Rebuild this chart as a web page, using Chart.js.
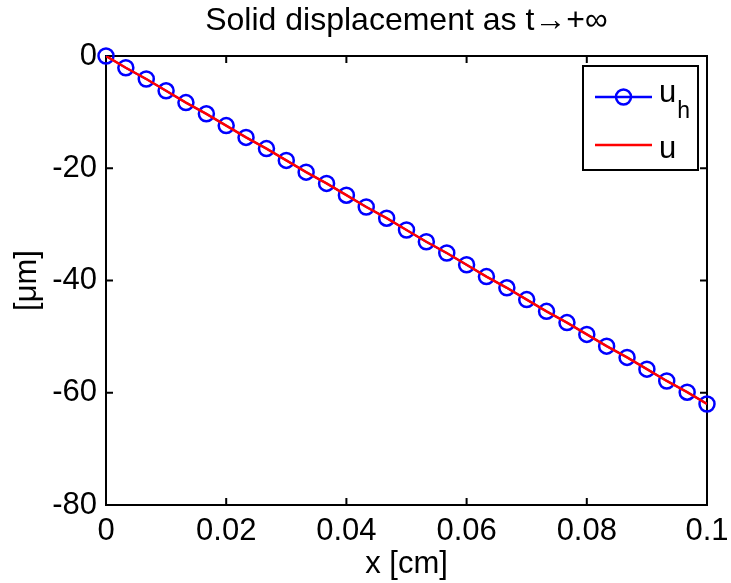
<!DOCTYPE html>
<html>
<head>
<meta charset="utf-8">
<script src="https://cdn.jsdelivr.net/npm/chart.js@4.4.1/dist/chart.umd.min.js"></script>
<style>
html,body{margin:0;padding:0;background:#ffffff;}
#wrap{width:731px;height:583px;}
</style>
</head>
<body>
<div id="wrap"><canvas id="c" width="731" height="583"></canvas></div>
<script>
// ---- data ----
const xValues = [0, 0.0033, 0.0067, 0.01, 0.0133, 0.0167, 0.02, 0.0233, 0.0267, 0.03,
  0.0333, 0.0367, 0.04, 0.0433, 0.0467, 0.05, 0.0533, 0.0567, 0.06, 0.0633,
  0.0667, 0.07, 0.0733, 0.0767, 0.08, 0.0833, 0.0867, 0.09, 0.0933, 0.0967, 0.1];
const uhValues = [0, -2.1, -4.1, -6.2, -8.3, -10.3, -12.4, -14.5, -16.5, -18.6,
  -20.7, -22.7, -24.8, -26.9, -28.9, -31.0, -33.1, -35.1, -37.2, -39.3,
  -41.3, -43.4, -45.5, -47.5, -49.6, -51.7, -53.7, -55.8, -57.9, -59.9, -62.0];
const uValues = [0, -2.1, -4.1, -6.2, -8.3, -10.3, -12.4, -14.5, -16.5, -18.6,
  -20.7, -22.7, -24.8, -26.9, -28.9, -31.0, -33.1, -35.1, -37.2, -39.3,
  -41.3, -43.4, -45.5, -47.5, -49.6, -51.7, -53.7, -55.8, -57.9, -59.9, -62.0];
const xTicks = [0, 0.02, 0.04, 0.06, 0.08, 0.1];
const yTicks = [0, -20, -40, -60, -80];
const seriesNames = ['u_h', 'u'];
const titleText = 'Solid displacement as t\u2192+\u221E';
const xLabel = 'x [cm]';
const yLabel = '[\u03BCm]';

const FONT = "'Liberation Sans', Arial, Helvetica, sans-serif";
const FS = 31;
const BLUE = '#0000ff';
const RED = '#ff0000';

function fmtTick(v) {
  if (Math.abs(v) < 1e-12) return '0';
  return String(parseFloat(v.toFixed(4)));
}

const boxPlugin = {
  id: 'matlabBox',
  beforeDatasetsDraw(chart) {
    const {ctx, chartArea: a, scales} = chart;
    ctx.save();
    ctx.strokeStyle = '#000';
    ctx.lineWidth = 2;
    ctx.beginPath();
    const tl = 7;
    scales.x.ticks.forEach(t => {
      const px = scales.x.getPixelForValue(t.value);
      ctx.moveTo(px, a.bottom); ctx.lineTo(px, a.bottom - tl);
      ctx.moveTo(px, a.top); ctx.lineTo(px, a.top + tl);
    });
    scales.y.ticks.forEach(t => {
      const py = scales.y.getPixelForValue(t.value);
      ctx.moveTo(a.left, py); ctx.lineTo(a.left + tl, py);
      ctx.moveTo(a.right, py); ctx.lineTo(a.right - tl, py);
    });
    ctx.stroke();
    ctx.strokeRect(a.left, a.top, a.right - a.left, a.bottom - a.top);
    ctx.restore();
  },
  afterDraw(chart) {
    const {ctx, chartArea: a} = chart;
    const bw = 115, bh = 104;
    const bx = a.right - 9 - bw, by = a.top + 10;
    ctx.save();
    ctx.fillStyle = '#fff';
    ctx.fillRect(bx, by, bw, bh);
    ctx.strokeStyle = '#000';
    ctx.lineWidth = 2;
    ctx.strokeRect(bx, by, bw, bh);
    const y1 = by + 31, y2 = by + 79;
    const lx0 = bx + 12, lx1 = bx + 69;
    ctx.strokeStyle = BLUE; ctx.lineWidth = 2.5;
    ctx.beginPath(); ctx.moveTo(lx0, y1); ctx.lineTo(lx1, y1); ctx.stroke();
    ctx.beginPath(); ctx.arc((lx0 + lx1) / 2, y1, 7.5, 0, Math.PI * 2); ctx.stroke();
    ctx.strokeStyle = RED; ctx.lineWidth = 2.5;
    ctx.beginPath(); ctx.moveTo(lx0, y2); ctx.lineTo(lx1, y2); ctx.stroke();
    ctx.fillStyle = '#000';
    ctx.textAlign = 'left';
    ctx.textBaseline = 'alphabetic';
    const parts = seriesNames[0].split('_');
    ctx.font = FS + 'px ' + FONT;
    ctx.fillText(parts[0], bx + 76, by + 36);
    const w = ctx.measureText(parts[0]).width;
    ctx.font = '23px ' + FONT;
    ctx.fillText(parts[1], bx + 77 + w, by + 52);
    ctx.font = FS + 'px ' + FONT;
    ctx.fillText(seriesNames[1], bx + 76, by + 92);
    ctx.restore();
  }
};

const ctx = document.getElementById('c').getContext('2d');
new Chart(ctx, {
  type: 'line',
  data: {
    datasets: [
      {
        label: seriesNames[1],
        data: xValues.map((x, i) => ({x: x, y: uValues[i]})),
        borderColor: RED,
        borderWidth: 2.5,
        pointRadius: 0,
        fill: false,
        order: 0
      },
      {
        label: seriesNames[0],
        data: xValues.map((x, i) => ({x: x, y: uhValues[i]})),
        borderColor: BLUE,
        backgroundColor: 'rgba(0,0,0,0)',
        borderWidth: 2,
        pointStyle: 'circle',
        pointRadius: 7.5,
        pointBorderWidth: 2.5,
        pointBorderColor: BLUE,
        pointBackgroundColor: 'rgba(0,0,0,0)',
        fill: false,
        clip: false,
        order: 1
      }
    ]
  },
  options: {
    responsive: false,
    animation: false,
    devicePixelRatio: 1,
    layout: {padding: {top: 0, right: 24, bottom: 0, left: 0}},
    plugins: {
      legend: {display: false},
      tooltip: {enabled: false},
      title: {
        display: true,
        text: titleText,
        fullSize: false,
        color: '#000',
        font: {family: FONT, size: 32, weight: 'normal'},
        padding: {top: 2, bottom: 15.6}
      }
    },
    scales: {
      x: {
        type: 'linear',
        min: 0, max: 0.1,
        afterBuildTicks: s => { s.ticks = xTicks.map(v => ({value: v})); },
        afterFit: s => { s.height = 78; s.paddingLeft = 0; s.paddingRight = 0; },
        grid: {display: false, drawTicks: false},
        border: {display: false},
        ticks: {
          color: '#000', padding: 8, maxRotation: 0,
          font: {family: FONT, size: FS},
          callback: v => fmtTick(v)
        },
        title: {
          display: true, text: xLabel, color: '#000',
          font: {family: FONT, size: FS},
          padding: {top: 0, bottom: 0}
        }
      },
      y: {
        type: 'linear',
        min: -80, max: 0,
        afterBuildTicks: s => { s.ticks = yTicks.map(v => ({value: v})); },
        afterFit: s => { s.width = 106; s.paddingTop = 0; s.paddingBottom = 0; },
        grid: {display: false, drawTicks: false},
        border: {display: false},
        ticks: {
          color: '#000', padding: 9,
          font: {family: FONT, size: FS},
          callback: v => fmtTick(v)
        },
        title: {
          display: true, text: yLabel, color: '#000',
          font: {family: FONT, size: FS},
          padding: {top: 9, bottom: 0}
        }
      }
    }
  },
  plugins: [boxPlugin]
});
</script>
</body>
</html>
